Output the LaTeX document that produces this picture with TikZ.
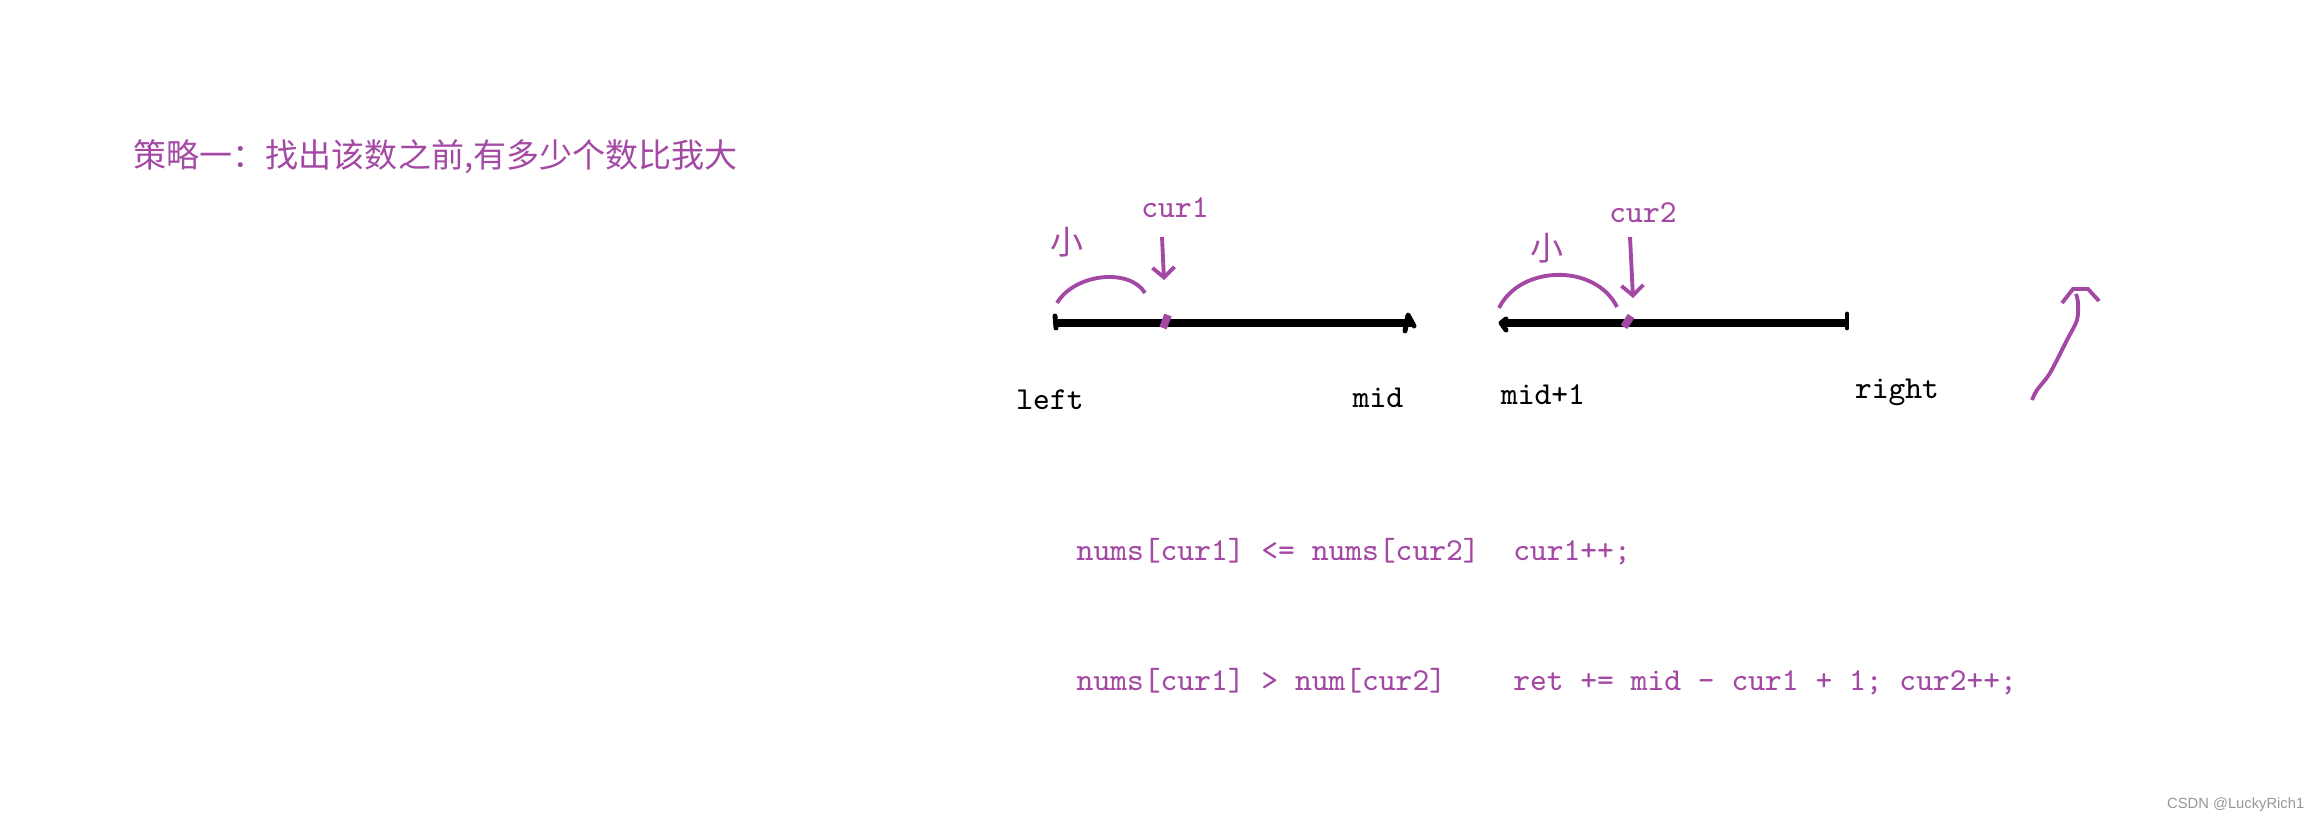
\documentclass[tikz,border=0pt]{standalone}
\usepackage{fontspec}
\newfontfamily\cjk{Noto Sans CJK SC}
\newfontfamily\wmfont{Liberation Sans}
\usetikzlibrary{arrows.meta,positioning}
\definecolor{paintpurple}{RGB}{163,73,164}
\definecolor{wmgray}{RGB}{150,150,150}

\begin{document}
\begin{tikzpicture}
    \useasboundingbox (0,0) rectangle (23.21,8.23);
    \begin{scope}[every node/.style={inner sep=0pt, text=paintpurple, font=\cjk\fontsize{9.4pt}{11pt}\selectfont}]
        \node[anchor=west] (title) at (1.33,6.66) {策略一：找出该数之前,有多少个数比我大};
        \node (small1) at (10.67,5.81) {小};
        \node (small2) at (15.47,5.75) {小};
    \end{scope}
    \begin{scope}[every node/.style={inner sep=0pt, text=paintpurple, font=\ttfamily\fontsize{9.1pt}{11pt}\selectfont}]
        \node (cur1) at (11.75,6.15) {cur1};
        \node (cur2) at (16.43,6.10) {cur2};
        \node[anchor=west] (case1) at (10.76,2.71) {nums[cur1] <= nums[cur2]~~cur1++;};
        \node[anchor=west] (case2) at (10.76,1.41) {nums[cur1] > num[cur2]~~~~ret += mid - cur1 + 1; cur2++;};
    \end{scope}
    \begin{scope}[every node/.style={inner sep=0pt, font=\ttfamily\fontsize{9.1pt}{11pt}\selectfont}]
        \node (lbl-left) at (10.50,4.23) {left};
        \node (lbl-mid) at (13.78,4.25) {mid};
        \node (lbl-mid1) at (15.43,4.28) {mid+1};
        \node (lbl-right) at (18.97,4.31) {right};
    \end{scope}
    \node[inner sep=0pt, anchor=east, text=wmgray, font=\wmfont\fontsize{4.2pt}{5pt}\selectfont] (mark) at (23.05,0.18) {CSDN @LuckyRich1};
    % the two halves
    \coordinate (l1a) at (10.55,5.00);
    \coordinate (l1b) at (14.13,5.00);
    \coordinate (l2a) at (15.02,5.00);
    \coordinate (l2b) at (18.47,5.00);
    \begin{scope}[every edge/.style={draw, line width=2pt}]
        \path [-] (l1a) edge (l1b);
        \path [-] (l2a) edge (l2b);
    \end{scope}
    \begin{scope}[line width=1.4pt, line join=round, line cap=round]
        \draw (10.55,5.07) -- (10.56,4.95);
        \draw (14.05,4.92) -- (14.08,5.08) -- (14.14,4.97);
        \draw (15.06,5.04) -- (15.01,5.00) -- (15.06,4.93);
        \draw (18.47,5.09) -- (18.47,4.95);
    \end{scope}
    % cur marks
    \begin{scope}[draw=paintpurple, line width=2.2pt]
        \draw (11.63,4.95) -- (11.68,5.08);
        \draw (16.24,4.96) -- (16.31,5.07);
    \end{scope}
    \coordinate (c1from) at (11.62,5.86);
    \coordinate (c1tip) at (11.64,5.43);
    \coordinate (c2from) at (16.30,5.86);
    \coordinate (c2tip) at (16.33,5.25);
    \begin{scope}[every edge/.style={draw=paintpurple, line width=1.1pt}]
        \path [-{Straight Barb[length=1mm,width=2.2mm]}] (c1from) edge (c1tip);
        \path [-{Straight Barb[length=1mm,width=2.2mm]}] (c2from) edge (c2tip);
    \end{scope}
    \begin{scope}[draw=paintpurple, line width=1.1pt]
        \draw (10.57,5.20) .. controls (10.75,5.50) and (11.30,5.55) .. (11.45,5.30);
        \draw (14.99,5.15) .. controls (15.20,5.58) and (15.95,5.60) .. (16.17,5.16);
        \draw plot[smooth] coordinates {(20.32,4.23) (20.37,4.33) (20.50,4.50) (20.67,4.83) (20.77,5.03) (20.78,5.20) (20.76,5.29)};
        \draw (20.62,5.20) -- (20.73,5.34) -- (20.88,5.34) -- (20.99,5.22);
    \end{scope}
\end{tikzpicture}
\end{document}
